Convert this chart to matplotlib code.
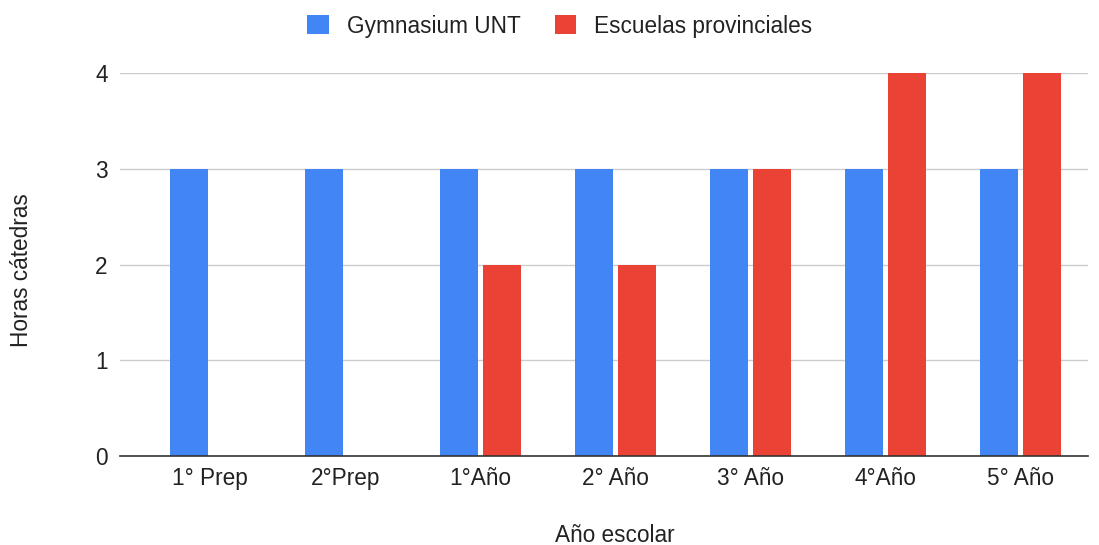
import matplotlib
matplotlib.use("Agg")
import matplotlib.pyplot as plt
import numpy as np

categories = ["1° Prep", "2°Prep", "1°Año", "2° Año", "3° Año", "4°Año", "5° Año"]
gymnasium = [3, 3, 3, 3, 3, 3, 3]
provinciales = [0, 0, 2, 2, 3, 4, 4]
series_names = ["Gymnasium UNT", "Escuelas provinciales"]
yticks = [0, 1, 2, 3, 4]

plt.rcParams['font.family'] = ['Liberation Sans', 'DejaVu Sans']
FS = 16.3

fig = plt.figure(figsize=(10.99, 5.45), dpi=100)
ax = fig.add_axes([120/1099, (545-456)/545, (1088-120)/1099, (456-73)/545])

x = np.arange(len(categories))
w = 0.281
off = 0.159
b1 = ax.bar(x - off, gymnasium, w, color="#4285F4", label=series_names[0], zorder=3)
b2 = ax.bar(x + off, provinciales, w, color="#EA4335", label=series_names[1], zorder=3)

ax.set_xlim(-0.667, 6.5)
ax.set_ylim(0, 4)
ax.set_yticks(yticks)
ax.set_xticks(x)
ax.set_xticklabels(categories, fontsize=FS, color="#222222")
ax.tick_params(axis='y', labelsize=FS, labelcolor="#222222", length=0, pad=9)
ax.tick_params(axis='x', length=0, pad=8)
ax.yaxis.grid(True, color="#CCCCCC", linewidth=1, zorder=0)
for s in ["top", "right", "left"]:
    ax.spines[s].set_visible(False)
ax.spines["bottom"].set_color("#333333")
ax.spines["bottom"].set_linewidth(1.2)
ax.spines["bottom"].set_zorder(4)

fig.text(22/1099, 1 - 270/545, "Horas cátedras", rotation=90, ha="center", va="center", fontsize=FS, color="#222222")
fig.text(615/1099, 1 - 535/545, "Año escolar", ha="center", va="center", fontsize=FS, color="#222222")

fig.legend(handles=[b1, b2], labels=series_names, loc="center", bbox_to_anchor=(560/1099, 1 - 26/545),
           ncol=2, frameon=False, fontsize=FS, handlelength=0.95, handleheight=0.95,
           columnspacing=1.5, handletextpad=0.8, labelcolor="#222222")

fig.savefig("out.png", dpi=100)
